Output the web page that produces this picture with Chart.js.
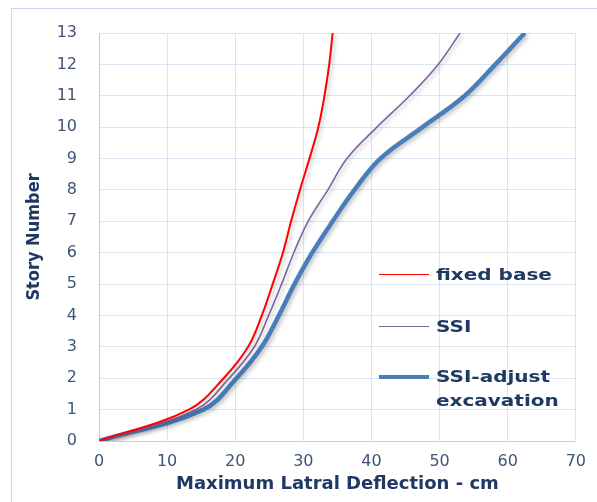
<!DOCTYPE html>
<html>
<head>
<meta charset="utf-8">
<script src="https://cdn.jsdelivr.net/npm/chart.js@4.4.1/dist/chart.umd.min.js"></script>
<style>
  html, body { margin: 0; padding: 0; background: #fff; }
  #wrap { position: relative; width: 597px; height: 502px; overflow: hidden; }
  #frame { position: absolute; left: 11px; top: 8px; width: 700px; height: 600px;
           border-left: 1px solid #c9daf0; border-top: 1px solid #c9daf0; }
  canvas { position: absolute; left: 0; top: 0; }
  .leg { position: absolute; left: 436px; font-family: 'DejaVu Sans', sans-serif; font-weight: bold;
         font-size: 16px; line-height: 24px; color: #1f3a60; white-space: nowrap;
         transform: scaleX(1.25); transform-origin: 0 50%; }
  .sw { position: absolute; left: 379px; width: 50px; }
</style>
</head>
<body>
<div id="wrap">
  <div id="frame"></div>
  <canvas id="chart" width="597" height="502"></canvas>
  <div class="sw" style="top:274px;height:1px;background:#ff0000"></div>
  <div class="leg" style="top:263px">fixed base</div>
  <div class="sw" style="top:326px;height:1px;background:#8064a2"></div>
  <div class="leg" style="top:315px">SSI</div>
  <div class="sw" style="top:375px;height:4px;background:#4a7ebb"></div>
  <div class="leg" style="top:365px">SSI-adjust<br>excavation</div>
</div>
<script>
// story levels (y) and max lateral deflection in cm (x) for each case
const stories = [0, 1, 2, 3, 4, 5, 6, 7, 8, 9, 10, 11, 12, 13]
const fixedBase = [0, 13.2, 18.3, 21.9, 23.9, 25.5, 27.0, 28.2, 29.5, 30.9, 32.2, 33.1, 33.8, 34.3]
const ssi = [0, 14.2, 19.1, 22.8, 24.9, 26.8, 28.6, 30.7, 33.6, 36.4, 40.8, 45.6, 49.8, 53.0]
const ssiAdjust = [0, 15.3, 20.2, 23.9, 26.4, 28.7, 31.3, 34.3, 37.5, 41.3, 47.5, 53.7, 58.2, 62.5]

const xTicks = [0, 10, 20, 30, 40, 50, 60, 70]

const toPoints = (vals) => vals.map((v, i) => ({ x: v, y: stories[i] }))

const lineShadow = {
  id: 'lineShadow',
  beforeDatasetDraw(chart) {
    const c = chart.ctx
    c.save()
    c.shadowColor = 'rgba(0,0,0,0.25)'
    c.shadowBlur = 4
    c.shadowOffsetX = 2
    c.shadowOffsetY = 2
  },
  afterDatasetDraw(chart) {
    chart.ctx.restore()
  }
}

const tickColor = '#3f5575'
const titleColor = '#1f3864'
const gridColor = '#dbe5f1'

new Chart(document.getElementById('chart').getContext('2d'), {
  type: 'scatter',
  data: {
    datasets: [
      { label: 'fixed base', data: toPoints(fixedBase), borderColor: '#ff0000', borderWidth: 2 },
      { label: 'SSI', data: toPoints(ssi), borderColor: '#8064a2', borderWidth: 1.6 },
      { label: 'SSI-adjust excavation', data: toPoints(ssiAdjust), borderColor: '#4a7ebb', borderWidth: 4.5 }
    ].map(d => Object.assign(d, { showLine: true, pointRadius: 0, tension: 0.38, fill: false }))
  },
  options: {
    responsive: false,
    animation: false,
    layout: { padding: { top: 33, right: 17, left: 0, bottom: 0 } },
    plugins: { legend: { display: false }, tooltip: { enabled: false } },
    scales: {
      x: {
        type: 'linear',
        min: 0,
        max: 70,
        afterBuildTicks: (s) => { s.ticks = xTicks.map(v => ({ value: v })) },
        afterFit: (s) => { s.height = 61 },
        grid: { color: gridColor, drawTicks: false },
        border: { color: '#b9cde5' },
        ticks: { color: tickColor, padding: 11, font: { family: 'DejaVu Sans', size: 16 } },
        title: {
          display: true,
          text: 'Maximum Latral Deflection - cm',
          color: titleColor,
          padding: { top: 0, bottom: 7 },
          font: { family: 'DejaVu Sans', size: 18, weight: 'bold' }
        }
      },
      y: {
        type: 'linear',
        min: 0,
        max: 13,
        afterBuildTicks: (s) => { s.ticks = stories.map(v => ({ value: v })) },
        afterFit: (s) => { s.width = 99 },
        grid: { color: gridColor, drawTicks: false },
        border: { color: '#b9cde5' },
        ticks: { color: tickColor, padding: 22, font: { family: 'DejaVu Sans', size: 16 } },
        title: {
          display: true,
          text: 'Story Number',
          color: titleColor,
          padding: { top: 24, bottom: 0 },
          font: { family: "'DejaVu Sans Condensed', 'DejaVu Sans'", size: 18, weight: 'bold' }
        }
      }
    }
  },
  plugins: [lineShadow]
})
</script>
</body>
</html>
